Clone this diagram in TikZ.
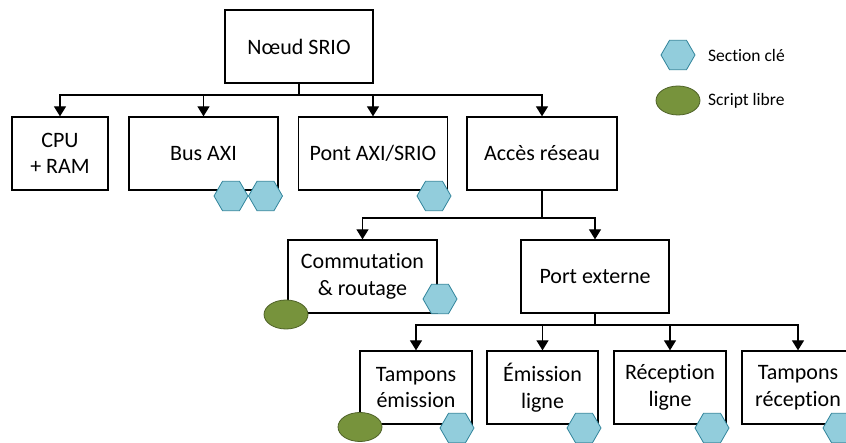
\documentclass[tikz,border=0pt]{standalone}
\usepackage{fontspec}
\setmainfont{Carlito}[Ligatures=NoCommon]
\usetikzlibrary{arrows.meta,shapes.geometric}
\definecolor{hexfill}{RGB}{146,205,220}
\definecolor{hexline}{RGB}{49,132,155}
\definecolor{ellfill}{RGB}{119,147,60}
\definecolor{ellline}{RGB}{79,98,40}
\tikzset{
  x=1pt,y=-1pt,
  box/.style={draw,line width=1.3pt,minimum height=73pt,inner sep=0pt,align=center,
    font=\fontsize{22}{26.5}\selectfont},
  conn/.style={line width=1.3pt,-{Triangle[width=12pt,length=10pt]}},
  plain/.style={line width=1.3pt},
  hexa/.style={regular polygon,regular polygon sides=6,minimum size=34pt,inner sep=0pt,
    fill=hexfill,draw=hexline,line width=0.8pt},
  ell/.style={ellipse,minimum width=44pt,minimum height=29pt,inner sep=0pt,
    fill=ellfill,draw=ellline,line width=0.8pt},
  legtext/.style={anchor=west,inner sep=0pt,font=\fontsize{17.5}{21}\selectfont}
}
\begin{document}
\begin{tikzpicture}
\useasboundingbox (0,0) rectangle (846,443);
% level 0
\node[box,minimum width=148pt] (srio) at (299,46.5) {Nœud SRIO};
% level 1
\node[box,minimum width=96pt] (cpu) at (60,153.5) {\raisebox{-2pt}{CPU}\\\raisebox{-2pt}{+ RAM}};
\node[box,minimum width=149pt] (bus) at (203.5,153.5) {Bus AXI};
\node[box,minimum width=149pt] (pont) at (373,153.5) {Pont AXI/SRIO};
\node[box,minimum width=150pt] (acces) at (542,153.5) {Accès réseau};
% level 2
\node[box,minimum width=149pt] (comm) at (362.5,276.5) {\raisebox{-2pt}{Commutation}\\\raisebox{-2pt}{\& routage}};
\node[box,minimum width=148pt] (port) at (595,276.5) {Port externe};
% level 3
\node[box,minimum width=112pt] (te) at (416,387.5) {\raisebox{-2pt}{Tampons}\\\raisebox{-2pt}{émission}};
\node[box,minimum width=111pt] (el) at (542.5,387.5) {\raisebox{-2pt}{Émission}\\\raisebox{-2pt}{ligne}};
\node[box,minimum width=112pt] (rl) at (670,387.5) {\raisebox{-2pt}{Réception}\\\raisebox{-2pt}{ligne}};
\node[box,minimum width=112pt] (tr) at (798,387.5) {\raisebox{-2pt}{Tampons}\\\raisebox{-2pt}{réception}};
% connectors
\coordinate (j1) at (299,95);
\coordinate (j2) at (542,218);
\coordinate (j3) at (595,325);
\draw[plain] (srio.south) -- (j1);
\draw[conn] (j1) -| (cpu.north);
\draw[conn] (j1) -| (bus.north);
\draw[conn] (j1) -| (pont.north);
\draw[conn] (j1) -| (acces.north);
\draw[plain] (acces.south) -- (j2);
\draw[conn] (j2) -| (comm.north);
\draw[conn] (j2) -| (port.north);
\draw[plain] (port.south) -- (j3);
\draw[conn] (j3) -| (te.north);
\draw[conn] (j3) -| (el.north);
\draw[conn] (j3) -| (rl.north);
\draw[conn] (j3) -| (tr.north);
% markers
\node[hexa] (hbus1) at (231,196) {};
\node[hexa] (hbus2) at (265.5,196) {};
\node[hexa] (hpont) at (434,196) {};
\node[hexa] (hcomm) at (440,299) {};
\node[ell] (ecomm) at (286,314.5) {};
\node[ell] (ete) at (360,427) {};
\node[hexa] (hte) at (457,428) {};
\node[hexa] (hel) at (584,428) {};
\node[hexa] (hrl) at (712,428) {};
\node[hexa] (htr) at (840,428) {};
% legend
\node[hexa] (leghex) at (678,55) {};
\node[ell] (legell) at (678,100.5) {};
\node[legtext] (legt1) at (708,55) {Section clé};
\node[legtext] (legt2) at (708,101) {Script libre};
\end{tikzpicture}
\end{document}
